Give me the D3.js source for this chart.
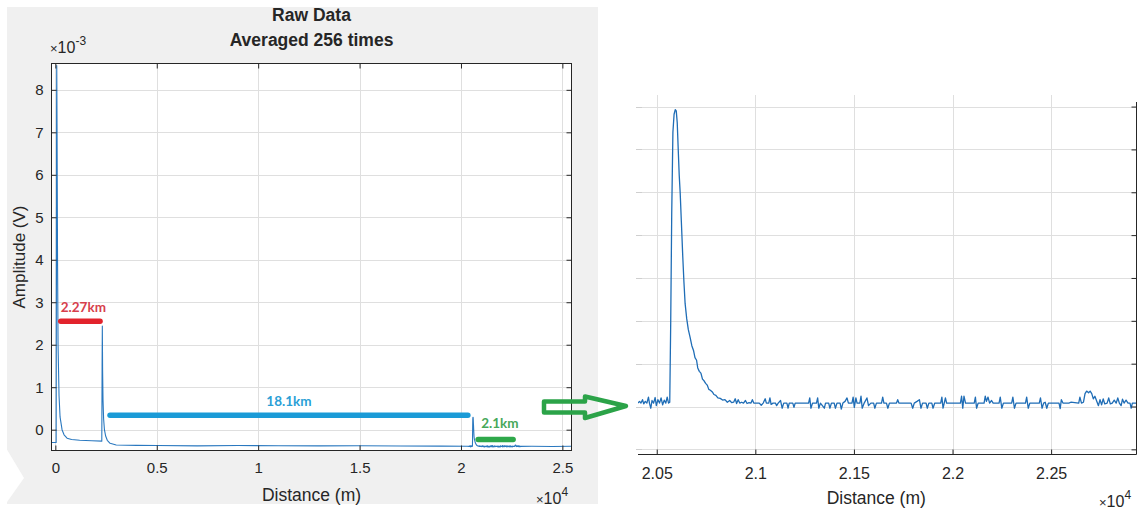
<!DOCTYPE html>
<html>
<head>
<meta charset="utf-8">
<script src="https://cdn.jsdelivr.net/npm/d3@7"></script>
<style>
  html, body { margin: 0; padding: 0; background: #ffffff; }
  svg { display: block; }
  text { font-family: "Liberation Sans", Arial, sans-serif; fill: #262626; }
</style>
</head>
<body>
<svg id="chart" width="1141" height="512"></svg>
<script>
// ---- Data (distance in m, amplitude in 1e-3 V) ----
// Full trace outside the zoomed window
const traceBefore = [
  [-190, -0.30], [40, -0.30], [55, 4.0], [62, 7.6], [69, 8.57], [84, 7.0], [108, 4.0],
  [133, 2.0], [182, 0.8], [232, 0.3], [330, 0.0], [429, -0.12], [577, -0.2], [800, -0.23],
  [1200, -0.25], [1800, -0.26], [2290, -0.27], [2305, 1.5], [2316, 2.44], [2330, 1.4],
  [2350, 0.7], [2380, 0.25], [2420, 0.0], [2480, -0.15], [2560, -0.25], [2700, -0.32],
  [3000, -0.36], [4000, -0.37], [5000, -0.372], [7000, -0.38], [9000, -0.374],
  [11000, -0.378], [13000, -0.382], [15000, -0.377], [17000, -0.384], [19000, -0.386],
  [20300, -0.39]
];
const traceAfter = [
  [23500, -0.39], [24500, -0.395], [25450, -0.39]
];
// Detailed trace around the third reflection
const zoomTrace = [
  [20405, -0.392], [20413, -0.388], [20420, -0.392], [20428, -0.384], [20434, -0.394],
  [20442, -0.388], [20450, -0.392], [20458, -0.378], [20463, -0.392], [20470, -0.404],
  [20476, -0.386], [20484, -0.392], [20492, -0.379], [20498, -0.398], [20506, -0.384],
  [20514, -0.392], [20522, -0.38], [20530, -0.396], [20538, -0.385], [20546, -0.392],
  [20553, -0.378], [20560, -0.392], [20566, -0.39], [20571, -0.2], [20576, 0.05],
  [20582, 0.24], [20588, 0.282], [20594, 0.293], [20599, 0.29], [20604, 0.262],
  [20609, 0.2], [20614, 0.14], [20619, 0.098], [20625, 0.03], [20632, -0.05],
  [20638, -0.11], [20644, -0.16], [20652, -0.195], [20660, -0.22], [20669, -0.238],
  [20678, -0.258], [20687, -0.27], [20694, -0.286], [20702, -0.292], [20708, -0.31],
  [20716, -0.318], [20724, -0.322], [20732, -0.336], [20740, -0.34], [20748, -0.346],
  [20756, -0.35], [20764, -0.36], [20772, -0.362], [20782, -0.366], [20790, -0.372],
  [20800, -0.374], [20810, -0.38], [20822, -0.381], [20834, -0.385], [20846, -0.384],
  [20858, -0.39], [20870, -0.386], [20880, -0.391], [20890, -0.39], [20898, -0.382],
  [20905, -0.393], [20913, -0.384], [20921, -0.392], [20930, -0.39], [20940, -0.392],
  [20950, -0.386], [20958, -0.393], [20968, -0.391], [20978, -0.392], [20985, -0.384],
  [20992, -0.392], [21020, -0.392], [21030, -0.397], [21040, -0.392], [21050, -0.382],
  [21056, -0.392], [21068, -0.392], [21074, -0.38], [21080, -0.395], [21090, -0.392],
  [21102, -0.392], [21108, -0.398], [21116, -0.392], [21128, -0.386], [21136, -0.404],
  [21144, -0.392], [21160, -0.392], [21166, -0.404], [21172, -0.392], [21190, -0.392],
  [21196, -0.402], [21202, -0.392], [21270, -0.392], [21276, -0.38], [21282, -0.404],
  [21290, -0.392], [21310, -0.392], [21316, -0.38], [21322, -0.404], [21330, -0.392],
  [21350, -0.404], [21356, -0.392], [21372, -0.392], [21378, -0.404], [21386, -0.392],
  [21400, -0.392], [21406, -0.404], [21414, -0.392], [21430, -0.392], [21436, -0.406],
  [21444, -0.392], [21455, -0.388], [21465, -0.38], [21472, -0.392], [21490, -0.392],
  [21496, -0.378], [21502, -0.402], [21510, -0.38], [21516, -0.392], [21530, -0.392],
  [21536, -0.376], [21542, -0.404], [21552, -0.392], [21566, -0.38], [21574, -0.398],
  [21586, -0.392], [21600, -0.392], [21606, -0.404], [21614, -0.392], [21640, -0.392],
  [21646, -0.378], [21652, -0.392], [21665, -0.392], [21672, -0.404], [21680, -0.392],
  [21716, -0.392], [21722, -0.384], [21728, -0.392], [21790, -0.392], [21798, -0.404],
  [21806, -0.392], [21820, -0.388], [21832, -0.384], [21840, -0.404], [21848, -0.392],
  [21866, -0.392], [21872, -0.404], [21880, -0.392], [21895, -0.392], [21901, -0.404],
  [21910, -0.392], [21940, -0.392], [21946, -0.378], [21952, -0.404], [21958, -0.392],
  [21964, -0.38], [21970, -0.392], [22040, -0.392], [22046, -0.376], [22052, -0.404],
  [22058, -0.376], [22066, -0.392], [22110, -0.392], [22116, -0.378], [22122, -0.404],
  [22130, -0.392], [22160, -0.392], [22166, -0.376], [22172, -0.388], [22180, -0.378],
  [22188, -0.392], [22198, -0.386], [22206, -0.392], [22236, -0.392], [22242, -0.378],
  [22250, -0.404], [22258, -0.392], [22300, -0.392], [22306, -0.378], [22314, -0.404],
  [22322, -0.392], [22370, -0.392], [22376, -0.378], [22384, -0.404], [22392, -0.392],
  [22440, -0.392], [22446, -0.38], [22454, -0.404], [22462, -0.392], [22470, -0.39],
  [22478, -0.404], [22486, -0.392], [22540, -0.392], [22546, -0.405], [22552, -0.384],
  [22560, -0.392], [22590, -0.392], [22600, -0.39], [22640, -0.392], [22646, -0.378],
  [22654, -0.392], [22664, -0.39], [22672, -0.37], [22680, -0.364], [22690, -0.368],
  [22698, -0.364], [22706, -0.37], [22714, -0.382], [22722, -0.376], [22730, -0.386],
  [22740, -0.398], [22748, -0.384], [22756, -0.396], [22764, -0.382], [22772, -0.394],
  [22784, -0.392], [22792, -0.38], [22800, -0.394], [22810, -0.392], [22820, -0.385],
  [22830, -0.392], [22838, -0.38], [22846, -0.392], [22855, -0.398], [22862, -0.383],
  [22870, -0.392], [22880, -0.385], [22890, -0.392], [22900, -0.392], [22906, -0.404],
  [22912, -0.392], [22933, -0.392]
];

// Axis ticks
const fullTicksX = [0, 5000, 10000, 15000, 20000, 25000];
const fullTickLabelsX = ["0", "0.5", "1", "1.5", "2", "2.5"];
const fullTicksY = [0, 1, 2, 3, 4, 5, 6, 7, 8];
const zoomTicksX = [20500, 21000, 21500, 22000, 22500];
const zoomTickLabelsX = ["2.05", "2.1", "2.15", "2.2", "2.25"];
const zoomTicksY = [-0.5, -0.4, -0.3, -0.2, -0.1, 0, 0.1, 0.2, 0.3];

// Fibre span annotations
const spanLabels = ["2.27km", "18.1km", "2.1km"];
const spanStart = [266, 2696, 20847];
const spanEnd = [2203, 20340, 22572];
const spanLevel = [2.55, 0.34, -0.23];

// ---- Drawing ----
const svg = d3.select("#chart");
const ink = "#262626";
const gridColor = "#dfdfdf";

// Figure background of the overview plot
svg.append("rect").attr("x", 7).attr("y", 7).attr("width", 591).attr("height", 497)
  .attr("fill", "#f0f0f0");
svg.append("polygon").attr("points", "0,438 24,478 0,512").attr("fill", "#ffffff");

// ===== Overview panel =====
const xL = d3.scaleLinear().domain([-190, 25450]).range([51.5, 571.5]);
const yL = d3.scaleLinear().domain([-0.49, 8.62]).range([450.5, 63.5]);
const L = { left: 51.5, right: 571.5, top: 63.5, bottom: 450.5 };

svg.append("rect").attr("x", L.left).attr("y", L.top)
  .attr("width", L.right - L.left).attr("height", L.bottom - L.top).attr("fill", "#ffffff");

const gL = svg.append("g");
gL.selectAll(".vg").data(fullTicksX).join("line")
  .attr("x1", d => Math.round(xL(d)) + 0.5).attr("x2", d => Math.round(xL(d)) + 0.5)
  .attr("y1", L.top).attr("y2", L.bottom).attr("stroke", gridColor);
gL.selectAll(".hg").data(fullTicksY).join("line")
  .attr("y1", d => Math.round(yL(d)) + 0.5).attr("y2", d => Math.round(yL(d)) + 0.5)
  .attr("x1", L.left).attr("x2", L.right).attr("stroke", gridColor);

svg.append("defs").append("clipPath").attr("id", "clipL")
  .append("rect").attr("x", L.left).attr("y", L.top - 2)
  .attr("width", L.right - L.left).attr("height", L.bottom - L.top + 2);

const fullTrace = traceBefore.concat(zoomTrace, traceAfter);
const lineL = d3.line().x(d => xL(d[0])).y(d => yL(d[1]));
gL.append("path").datum(fullTrace).attr("d", lineL).attr("clip-path", "url(#clipL)")
  .attr("fill", "none").attr("stroke", "#2a78bf").attr("stroke-width", 1.1)
  .attr("stroke-linejoin", "round");

// Axes with inward ticks on all four sides
function styleAxis(size) {
  return g => {
    g.select(".domain").remove();
    g.selectAll(".tick line").attr("stroke", ink);
    g.selectAll(".tick text").attr("fill", ink).style("font-size", size + "px")
      .style("font-family", '"Liberation Sans", Arial, sans-serif');
  };
}
const axB = d3.axisBottom(xL).tickValues(fullTicksX).tickFormat((d, i) => fullTickLabelsX[i])
  .tickSize(-5).tickPadding(12);
const axT = d3.axisTop(xL).tickValues(fullTicksX).tickFormat("").tickSize(-5);
const axLft = d3.axisLeft(yL).tickValues(fullTicksY).tickFormat(d3.format("d")).tickSize(-5).tickPadding(8);
const axR = d3.axisRight(yL).tickValues(fullTicksY).tickFormat("").tickSize(-5);
svg.append("g").attr("transform", `translate(0,${L.bottom})`).call(axB).call(styleAxis(15));
svg.append("g").attr("transform", `translate(0,${L.top})`).call(axT).call(styleAxis(15));
svg.append("g").attr("transform", `translate(${L.left},0)`).call(axLft).call(styleAxis(15));
svg.append("g").attr("transform", `translate(${L.right},0)`).call(axR).call(styleAxis(15));
svg.append("rect").attr("x", L.left).attr("y", L.top)
  .attr("width", L.right - L.left).attr("height", L.bottom - L.top)
  .attr("fill", "none").attr("stroke", ink).attr("stroke-width", 1);

// Titles and labels
const cxL = (L.left + L.right) / 2;
svg.append("text").attr("x", cxL).attr("y", 21).attr("text-anchor", "middle")
  .style("font-size", "17.5px").style("font-weight", "bold").text("Raw Data");
svg.append("text").attr("x", cxL).attr("y", 46).attr("text-anchor", "middle")
  .style("font-size", "17.5px").style("font-weight", "bold").text("Averaged 256 times");
svg.append("text").attr("x", cxL).attr("y", 501).attr("text-anchor", "middle")
  .style("font-size", "17.5px").text("Distance (m)");
svg.append("text").attr("transform", `translate(25,${(L.top + L.bottom) / 2}) rotate(-90)`)
  .attr("text-anchor", "middle").style("font-size", "17px").text("Amplitude (V)");

function expLabel(x, y, power) {
  const t = svg.append("text").attr("x", x).attr("y", y);
  t.append("tspan").style("font-size", "13px").text("\u00d7");
  t.append("tspan").style("font-size", "16px").text("10");
  t.append("tspan").style("font-size", "12px").attr("dy", -8).text(power);
}
expLabel(50, 53, "-3");
expLabel(536, 504, "4");

// Span annotations
const spanColors = ["#e2232c", "#1b9bd7", "#2ea84a"];
const spanTextColors = ["#d7404c", "#2a9fd6", "#47a85a"];
const spanAnchor = ["start", "middle", "start"];
const spanTextOffset = [0, 0, 3];
const spanTextRise = [14, 14, 16];
spanLabels.forEach((lab, i) => {
  const x1 = xL(spanStart[i]), x2 = xL(spanEnd[i]), y = yL(spanLevel[i]);
  svg.append("line").attr("x1", x1).attr("x2", x2).attr("y1", y).attr("y2", y)
    .attr("stroke", spanColors[i]).attr("stroke-width", 5.5).attr("stroke-linecap", "round");
  const tx = spanAnchor[i] === "middle" ? (x1 + x2) / 2 : x1 + spanTextOffset[i];
  svg.append("text").attr("x", tx).attr("y", y - spanTextRise[i] + 5)
    .attr("text-anchor", spanAnchor[i])
    .style("font-family", "Lato, 'Open Sans', sans-serif").style("font-weight", "bold")
    .style("font-size", "13.5px").style("fill", spanTextColors[i]).text(lab);
});

// ===== Zoomed panel =====
const R = { left: 638, right: 1136.5, top: 98, bottom: 454.5 };
const xR = d3.scaleLinear().domain([20405, 22933]).range([R.left, R.right]);
const yR = d3.scaleLinear().domain([-0.512, 0.32]).range([R.bottom, R.top]);

const gR = svg.append("g");
gR.selectAll(".vg").data(zoomTicksX).join("line")
  .attr("x1", d => Math.round(xR(d)) + 0.5).attr("x2", d => Math.round(xR(d)) + 0.5)
  .attr("y1", R.top - 3).attr("y2", R.bottom).attr("stroke", gridColor);
gR.selectAll(".hg").data(zoomTicksY).join("line")
  .attr("y1", d => Math.round(yR(d)) + 0.5).attr("y2", d => Math.round(yR(d)) + 0.5)
  .attr("x1", R.left).attr("x2", R.right).attr("stroke", gridColor);
// faint tick stubs on the cut left edge
gR.selectAll(".lt").data(zoomTicksY).join("line")
  .attr("y1", d => Math.round(yR(d)) + 0.5).attr("y2", d => Math.round(yR(d)) + 0.5)
  .attr("x1", R.left - 2).attr("x2", R.left + 4).attr("stroke", "#cfcfcf");

svg.append("defs").append("clipPath").attr("id", "clipR")
  .append("rect").attr("x", R.left).attr("y", R.top)
  .attr("width", R.right - R.left).attr("height", R.bottom - R.top);
const lineR = d3.line().x(d => xR(d[0])).y(d => yR(d[1]));
gR.append("path").datum(zoomTrace).attr("d", lineR).attr("clip-path", "url(#clipR)")
  .attr("fill", "none").attr("stroke", "#1f6db6").attr("stroke-width", 1.3)
  .attr("stroke-linejoin", "round");

const axRB = d3.axisBottom(xR).tickValues(zoomTicksX).tickFormat((d, i) => zoomTickLabelsX[i])
  .tickSize(-5).tickPadding(13);
const axRR = d3.axisRight(yR).tickValues(zoomTicksY).tickFormat("").tickSize(-5);
svg.append("g").attr("transform", `translate(0,${R.bottom})`).call(axRB).call(styleAxis(16));
svg.append("g").attr("transform", `translate(${R.right},0)`).call(axRR).call(styleAxis(16));
svg.append("line").attr("x1", R.left).attr("x2", R.right).attr("y1", R.bottom).attr("y2", R.bottom)
  .attr("stroke", ink);
svg.append("line").attr("x1", R.right).attr("x2", R.right).attr("y1", R.top + 4).attr("y2", R.bottom)
  .attr("stroke", ink);
svg.append("text").attr("x", (R.left + R.right) / 2 - 11).attr("y", 504).attr("text-anchor", "middle")
  .style("font-size", "17.5px").text("Distance (m)");
expLabel(1099, 507, "4");

// Arrow linking the two panels
svg.append("path")
  .attr("d", "M544,401.5 L585,401.5 L585,396.5 L626,406 L585,418 L585,412.5 L544,412.5 Z")
  .attr("fill", "none").attr("stroke", "#2ba348").attr("stroke-width", 4.5)
  .attr("stroke-linejoin", "round");
</script>
</body>
</html>
